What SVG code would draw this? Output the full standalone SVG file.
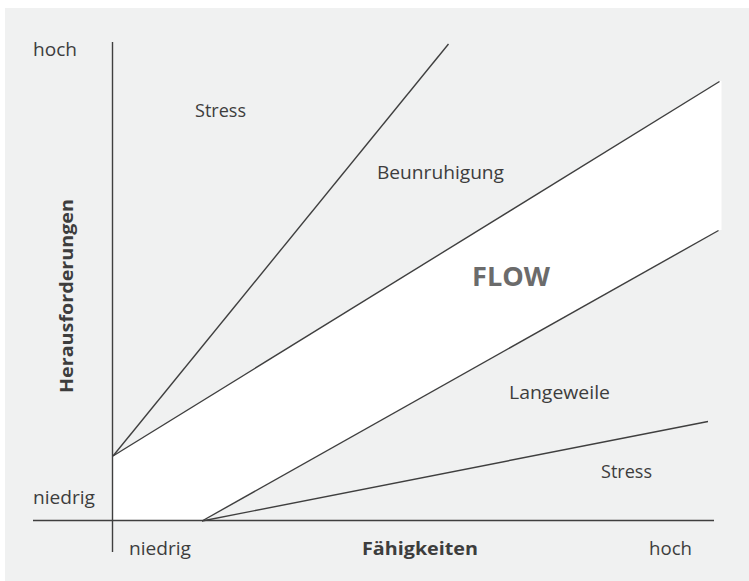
<svg xmlns="http://www.w3.org/2000/svg" width="749" height="581" viewBox="0 0 749 581">
<style>
.t{font-family:"Open Sans","Noto Sans","Liberation Sans",sans-serif;font-size:18.5px;fill:#3d3d3d}
.b{font-weight:bold}
.ln{stroke:#3f3f3f;stroke-width:1.4;fill:none}
</style>
<rect x="0" y="0" width="749" height="581" fill="#ffffff"/>
<rect x="5" y="8" width="744" height="573" fill="#f0f1f1"/>
<g id="flow-band">
<polygon points="113,456 720,81 721.5,81 721.5,230 719,230 202,521 113,521" fill="#ffffff"/>
</g>
<g id="connectors">
<line class="ln" x1="33" y1="520.5" x2="714" y2="520.5"/>
<line class="ln" x1="112.5" y1="42" x2="112.5" y2="552"/>
<line class="ln" x1="113" y1="456" x2="448.5" y2="44"/>
<line class="ln" x1="113" y1="456" x2="719.5" y2="81.5"/>
<line class="ln" x1="202" y1="521" x2="718.5" y2="230.5"/>
<line class="ln" x1="202" y1="521" x2="708" y2="421.5"/>
</g>
<g id="labels">
<text id="y-hoch" class="t" x="33" y="56" textLength="44" lengthAdjust="spacingAndGlyphs">hoch</text>
<text id="y-niedrig" class="t" x="33" y="504" textLength="62" lengthAdjust="spacingAndGlyphs">niedrig</text>
<text id="x-niedrig" class="t" x="129" y="555" textLength="62" lengthAdjust="spacingAndGlyphs">niedrig</text>
<text id="x-hoch" class="t" x="649" y="555" textLength="43" lengthAdjust="spacingAndGlyphs">hoch</text>
<text id="x-title" class="t b" x="362" y="555" textLength="116" lengthAdjust="spacingAndGlyphs">Fähigkeiten</text>
<text id="y-title" class="t b" transform="translate(73,393) rotate(-90)" x="0" y="0" textLength="194" lengthAdjust="spacingAndGlyphs">Herausforderungen</text>
</g>
<g id="zone-stress-top"><text class="t" x="195" y="117" textLength="51" lengthAdjust="spacingAndGlyphs">Stress</text></g>
<g id="zone-beunruhigung"><text class="t" x="377" y="179" textLength="127" lengthAdjust="spacingAndGlyphs">Beunruhigung</text></g>
<g id="zone-flow"><text class="t b" x="472" y="286" style="font-size:27px;fill:#6b6b6b" textLength="78" lengthAdjust="spacingAndGlyphs">FLOW</text></g>
<g id="zone-langeweile"><text class="t" x="509" y="399" textLength="101" lengthAdjust="spacingAndGlyphs">Langeweile</text></g>
<g id="zone-stress-bottom"><text class="t" x="601" y="478" textLength="51" lengthAdjust="spacingAndGlyphs">Stress</text></g>
</svg>
